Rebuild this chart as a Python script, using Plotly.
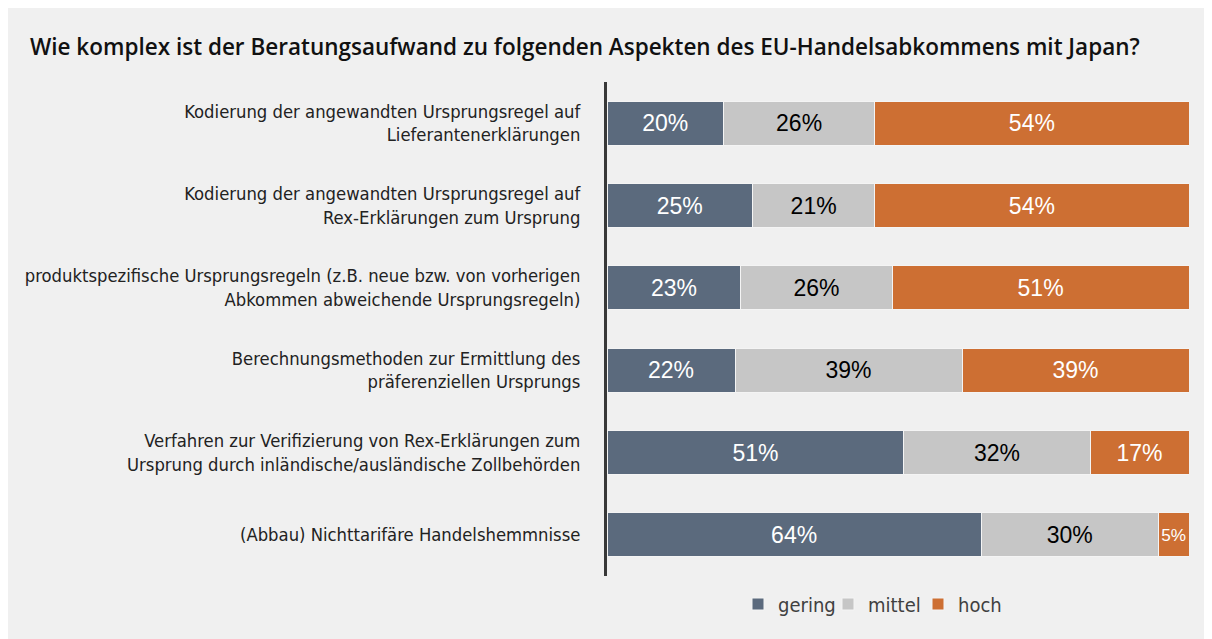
import plotly.graph_objects as go

categories = [
    "Kodierung der angewandten Ursprungsregel auf<br>Lieferantenerklärungen",
    "Kodierung der angewandten Ursprungsregel auf<br>Rex-Erklärungen zum Ursprung",
    "produktspezifische Ursprungsregeln (z.B. neue bzw. von vorherigen<br>Abkommen abweichende Ursprungsregeln)",
    "Berechnungsmethoden zur Ermittlung des<br>präferenziellen Ursprungs",
    "Verfahren zur Verifizierung von Rex-Erklärungen zum<br>Ursprung durch inländische/ausländische Zollbehörden",
    "(Abbau) Nichttarifäre Handelshemmnisse",
]
gering = [20, 25, 23, 22, 51, 64.3]
mittel = [26, 21, 26, 39, 32, 30.4]
hoch = [54, 54, 51, 39, 17, 5.3]

series = [
    ("gering", gering, "#5b6a7d", "white"),
    ("mittel", mittel, "#c6c6c6", "black"),
    ("hoch", hoch, "#cd6f33", "white"),
]

fig = go.Figure()
for name, vals, color, tcolor in series:
    fig.add_trace(go.Bar(
        y=categories, x=vals, name=name, orientation="h",
        marker=dict(color=color, line=dict(color="#f4f4f4", width=1)),
        texttemplate="%{x:.0f}%", textposition="inside",
        insidetextanchor="middle", textangle=0,
        textfont=dict(color=tcolor, size=23, family="Liberation Sans, Arial, sans-serif"),
    ))

# the browser places the figure 8px in from the page's top-left corner
OFF = 8
W, H = 1204, 631
L, T = 607 - OFF, 82 - OFF
R = W - (1189 - OFF)
B = H - (576 - OFF)
pw, ph = W - L - R, H - T - B

def px_x(p):
    return (p - OFF - L) / pw

def px_y(p):
    return (H - B - (p - OFF)) / ph

fig.update_layout(
    width=W, height=H,
    barmode="stack", bargap=0.465,
    paper_bgcolor="#f0f0f0", plot_bgcolor="#f0f0f0",
    margin=dict(l=L, r=R, t=T, b=B, autoexpand=False),
    title=dict(
        text="Wie komplex ist der Beratungsaufwand zu folgenden Aspekten des EU-Handelsabkommens mit Japan?",
        x=(30 - OFF) / W, xanchor="left", y=1 - (47 - OFF) / H, yanchor="middle",
        font=dict(family="Open Sans, Noto Sans, sans-serif", size=22.5, color="#111111", weight=600),
    ),
    xaxis=dict(range=[0, 100], visible=False, fixedrange=True),
    yaxis=dict(
        autorange="reversed", showline=True, linecolor="#383838", linewidth=3,
        showgrid=False, ticks="", ticklabelstandoff=20,
        tickfont=dict(family="DejaVu Sans Condensed, sans-serif", size=18.3, color="#222222"),
    ),
    legend=dict(
        orientation="h", traceorder="normal",
        x=px_x(738), xanchor="left", y=px_y(604), yanchor="middle",
        font=dict(family="DejaVu Sans Condensed, sans-serif", size=20, color="#404040"),
        bgcolor="rgba(0,0,0,0)", itemclick=False, itemwidth=30,
        entrywidth=45, entrywidthmode="pixels",
    ),
    showlegend=True,
)

fig.write_html("out.html")
